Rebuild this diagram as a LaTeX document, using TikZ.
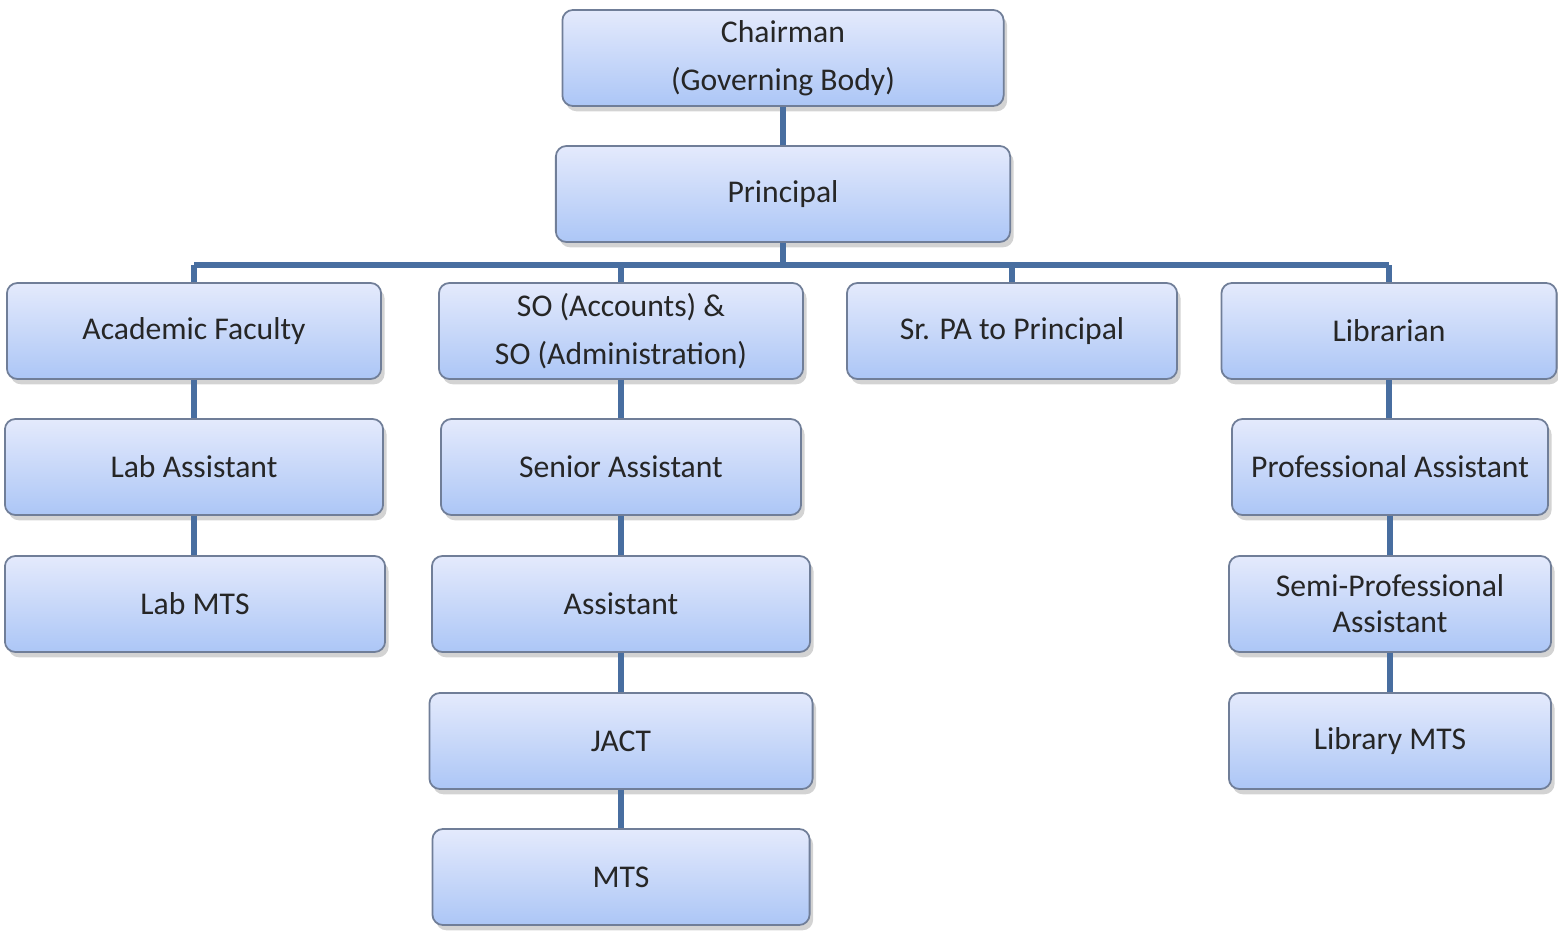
\documentclass[tikz,border=0pt]{standalone}
\usepackage{fontspec}
\setmainfont{Carlito}
\usetikzlibrary{shadows}
\definecolor{boxtop}{RGB}{228,234,252}
\definecolor{boxbot}{RGB}{172,198,246}
\definecolor{boxline}{RGB}{112,126,152}
\definecolor{wire}{RGB}{72,110,160}
\tikzset{
  post/.style={draw=boxline, line width=0.5pt, rounded corners=3pt,
    top color=boxtop, bottom color=boxbot,
    drop shadow={shadow xshift=1pt, shadow yshift=-1.5pt, opacity=0.35},
    font=\fontsize{9}{10.2}\selectfont, text=black!85, align=center,
    inner sep=0pt, minimum height=0.96cm},
  wire/.style={draw=wire, line width=1.8pt}
}
\begin{document}
\begin{tikzpicture}[x=0.01cm,y=-0.01cm]
            \useasboundingbox (0,0) rectangle (1558,934);
            % top of the tree
            \node[post,minimum width=4.41cm] (chair) at (783,58) {Chairman\\[3.4pt](Governing Body)};
            \node[post,minimum width=4.54cm] (princ) at (783,194) {Principal};
            % second row
            \node[post,minimum width=3.74cm] (acad) at (194,331) {Academic Faculty};
            \node[post,minimum width=3.64cm] (so) at (621,331) {SO (Accounts) \&\\[3.4pt]SO (Administration)};
            \node[post,minimum width=3.30cm] (srpa) at (1012,331) {Sr. PA to Principal};
            \node[post,minimum width=3.35cm] (lib) at (1389,331) {Librarian};
            % faculty side
            \node[post,minimum width=3.78cm] (labasst) at (194,467) {Lab Assistant};
            \node[post,minimum width=3.80cm] (labmts) at (195,604) {Lab MTS};
            % office side
            \node[post,minimum width=3.60cm] (senasst) at (621,467) {Senior Assistant};
            \node[post,minimum width=3.78cm] (asst) at (621,604) {Assistant};
            \node[post,minimum width=3.83cm] (jact) at (621,741) {JACT};
            \node[post,minimum width=3.77cm] (mts) at (621,877) {MTS};
            % library side
            \node[post,minimum width=3.16cm] (profasst) at (1390,467) {Professional Assistant};
            \node[post,minimum width=3.22cm] (semiasst) at (1390,604) {Semi-Professional\\Assistant};
            \node[post,minimum width=3.22cm] (libmts) at (1390,741) {Library MTS};
            % connectors
            \coordinate (bus) at (0,265);
            \draw[wire] (chair.south) -- (chair.south |- princ.north);
            \draw[wire] (princ.south) -- (princ.south |- bus);
            \draw[wire] (acad.north |- bus) -- (lib.north |- bus);
            \foreach \n in {acad,so,srpa,lib}
                \draw[wire] (\n.north) -- (\n.north |- bus);
            \foreach \a/\b in {acad/labasst,labasst/labmts,so/senasst,senasst/asst,asst/jact,jact/mts,lib/profasst,profasst/semiasst,semiasst/libmts}
                \draw[wire] (\a.south) -- (\a.south |- \b.north);
        \end{tikzpicture}
\end{document}
